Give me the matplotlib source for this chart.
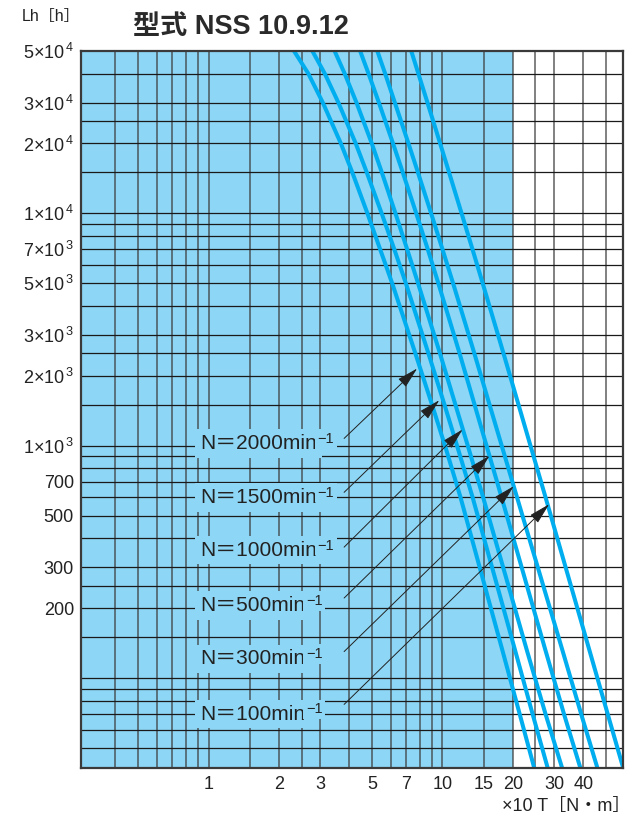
import matplotlib
matplotlib.use("Agg")
import matplotlib.pyplot as plt
from matplotlib.ticker import FixedLocator, FixedFormatter, NullFormatter

plt.rcParams["font.family"] = ["Liberation Sans", "Noto Sans CJK JP", "DejaVu Sans"]
plt.rcParams["mathtext.fontset"] = "custom"
plt.rcParams["mathtext.rm"] = "Liberation Sans"
plt.rcParams["mathtext.it"] = "Liberation Sans:italic"
plt.rcParams["mathtext.bf"] = "Liberation Sans:bold"

# life [h] at which each curve was read
LH = [5e4, 4e4, 3e4, 2e4, 1.5e4, 1e4, 7e3, 5e3, 2.5e3, 1.5e3, 1e3, 600, 133, 70, 41]
# torque (x10 N.m) per speed curve
T_2000 = [2.32, 2.67, 3.08, 3.68, 4.12, 4.78, 5.42, 6.10, 7.66, 9.03, 10.26, 11.95, 18.0, 21.4, 24.7]
T_1500 = [2.78, 3.14, 3.59, 4.26, 4.75, 5.50, 6.23, 6.98, 8.71, 10.21, 11.55, 13.46, 20.4, 24.3, 28.2]
T_1000 = [3.46, 3.82, 4.29, 4.99, 5.51, 6.30, 7.07, 7.87, 9.76, 11.37, 12.84, 14.93, 22.9, 27.6, 32.5]
T_500 = [4.45, 4.83, 5.35, 6.15, 6.77, 7.73, 8.66, 9.61, 11.84, 13.73, 15.44, 17.90, 27.5, 33.1, 38.9]
T_300 = [5.27, 5.69, 6.26, 7.16, 7.86, 8.95, 10.01, 11.11, 13.69, 15.91, 17.93, 20.84, 32.5, 39.2, 46.0]
T_100 = [7.36, 7.89, 8.63, 9.78, 10.68, 12.08, 13.45, 14.87, 18.24, 21.16, 23.80, 27.60, 42.4, 50.9, 59.3]
CURVES = [T_2000, T_1500, T_1000, T_500, T_300, T_100]

SPEEDS = ["N＝2000min", "N＝1500min", "N＝1000min", "N＝500min", "N＝300min", "N＝100min"]
LABEL_Y = [1020, 600, 355, 205, 121, 70]
ARROW_FROM = [(3.8, 1075), (3.8, 630), (3.8, 366), (3.8, 221), (3.8, 130), (3.8, 77)]
ARROW_TO = [(7.8, 2150), (9.7, 1570), (12.2, 1175), (15.9, 905), (20.2, 670), (28.6, 560)]

X_GRID = [0.4, 0.5, 0.6, 0.7, 0.8, 0.9, 1, 1.5, 2, 2.5, 3, 4, 5, 6, 7, 8, 9, 10,
          15, 20, 25, 30, 40, 50]
X_TICKS = [1, 2, 3, 5, 7, 10, 15, 20, 30, 40]
X_LABELS = ["1", "2", "3", "5", "7", "10", "15", "20", "30", "40"]
Y_GRID = [50, 60, 70, 80, 90, 100, 150, 200, 250, 300, 400, 500, 600, 700, 800, 900,
          1e3, 1.5e3, 2e3, 2.5e3, 3e3, 4e3, 5e3, 6e3, 7e3, 8e3, 9e3,
          1e4, 1.5e4, 2e4, 2.5e4, 3e4, 4e4]
Y_TICKS = [5e4, 3e4, 2e4, 1e4, 7e3, 5e3, 3e3, 2e3, 1e3, 700, 500, 300, 200]
Y_LABELS = ["5×10$^{\\,4}$", "3×10$^{\\,4}$", "2×10$^{\\,4}$", "1×10$^{\\,4}$",
            "7×10$^{\\,3}$", "5×10$^{\\,3}$", "3×10$^{\\,3}$", "2×10$^{\\,3}$",
            "1×10$^{\\,3}$", "700", "500", "300", "200"]

SHADE_END = 20
BLUE = "#8dd6f5"
CYAN = "#00aeef"
INK = "#222222"

fig = plt.figure(figsize=(6.35, 8.18), dpi=100)
ax = fig.add_axes([81 / 635, 1 - 768 / 818, (622.7 - 81) / 635, (768 - 51) / 818])
ax.set_xscale("log")
ax.set_yscale("log")
ax.set_xlim(0.285, 59)
ax.set_ylim(41, 5e4)

ax.axvspan(0.285, SHADE_END, color=BLUE, lw=0, zorder=0)

for v in X_GRID:
    ax.axvline(v, color="#3c3c3c", lw=1.3, alpha=0.7, zorder=1)
for v in Y_GRID:
    ax.axhline(v, color="#1a1a1a", lw=0.9, zorder=1)

for t in CURVES:
    ax.plot(t, LH, color=CYAN, lw=2.9, zorder=3, solid_capstyle="butt")

for txt, y in zip(SPEEDS, LABEL_Y):
    lab = ax.text(0.92, y, txt, fontsize=15, ha="left", va="center", zorder=4, color=INK,
                  bbox=dict(facecolor=BLUE, edgecolor="none", pad=3.5))
    ax.annotate("−1", xy=(1, 1), xycoords=lab, xytext=(0.5, 1.5),
                textcoords="offset points", ha="left", va="top", fontsize=10.5,
                color=INK, zorder=4,
                bbox=dict(facecolor=BLUE, edgecolor="none", pad=2))

for (x0, y0), (x1, y1) in zip(ARROW_FROM, ARROW_TO):
    ax.annotate("", xy=(x1, y1), xytext=(x0, y0), zorder=5,
                arrowprops=dict(arrowstyle="-|>,head_length=1.1,head_width=0.28",
                                mutation_scale=12, lw=0.7, color=INK,
                                shrinkA=0, shrinkB=0))

ax.xaxis.set_major_locator(FixedLocator(X_TICKS))
ax.xaxis.set_major_formatter(FixedFormatter(X_LABELS))
ax.xaxis.set_minor_formatter(NullFormatter())
ax.yaxis.set_major_locator(FixedLocator(Y_TICKS))
ax.yaxis.set_major_formatter(FixedFormatter(Y_LABELS))
ax.yaxis.set_minor_formatter(NullFormatter())
ax.tick_params(which="both", length=0, labelsize=13, colors=INK)
ax.tick_params(axis="x", pad=6)
ax.tick_params(axis="y", pad=5)

for s in ax.spines.values():
    s.set_color("#3a3a3a")
    s.set_linewidth(1.6)
    s.set_zorder(6)

fig.text(133 / 635, 1 - 27 / 818, "型式 NSS 10.9.12", fontsize=19.5, fontweight="bold",
         ha="left", va="center", color="#2a2a2a")
fig.text(22 / 635, 1 - 17 / 818, "Lh［h］", fontsize=11.5, ha="left", va="center",
         color=INK)
fig.text(630 / 635, 1 - 806 / 818, "×10 T［N・m］", fontsize=13, ha="right",
         va="center", color=INK)

fig.savefig("out.png", dpi=100)
